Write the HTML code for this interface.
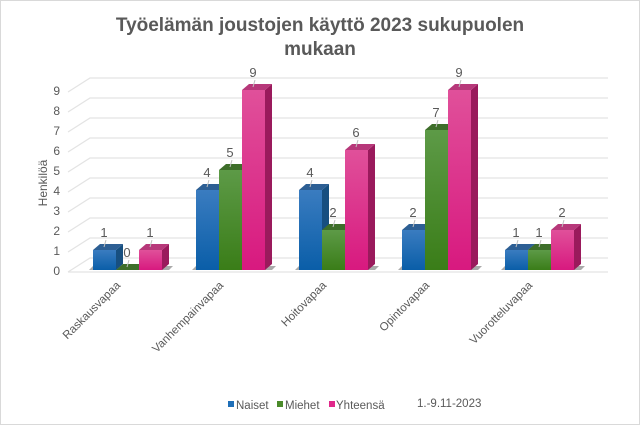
<!DOCTYPE html>
<html><head><meta charset="utf-8"><style>
html,body{margin:0;padding:0;background:#fff;}
svg{display:block;font-family:"Liberation Sans",Arial,sans-serif;}
</style></head><body>
<svg width="640" height="425" viewBox="0 0 640 425" xmlns="http://www.w3.org/2000/svg">
<defs>
<linearGradient id="gb" x1="0" y1="0" x2="0" y2="1"><stop offset="0" stop-color="#3a7cc0"/><stop offset="1" stop-color="#0a5ea8"/></linearGradient>
<linearGradient id="gg" x1="0" y1="0" x2="0" y2="1"><stop offset="0" stop-color="#5d9a47"/><stop offset="1" stop-color="#3a7d18"/></linearGradient>
<linearGradient id="gp" x1="0" y1="0" x2="0" y2="1"><stop offset="0" stop-color="#e0509a"/><stop offset="1" stop-color="#d8197f"/></linearGradient>
</defs>
<rect x="0.5" y="0.5" width="639" height="424" fill="#fff" stroke="#d9d9d9"/>
<text x="320" y="31" text-anchor="middle" font-size="19" font-weight="bold" fill="#595959">Työelämän joustojen käyttö 2023 sukupuolen</text>
<text x="320" y="55" text-anchor="middle" font-size="19" font-weight="bold" fill="#595959">mukaan</text>
<g stroke="#e3e3e3" stroke-width="1.2" fill="none" id="grid"></g>
<g font-size="12" fill="#595959" text-anchor="end" id="yl"></g>
<text transform="translate(47,183) rotate(-90)" text-anchor="middle" font-size="12" fill="#595959">Henkilöä</text>
<g id="bars"></g>
<g font-size="11.5" fill="#595959" id="xl"></g>
<g font-size="11.5" fill="#595959">
<rect x="228" y="401" width="6" height="6" fill="#1f6fb8"/><text x="236" y="409">Naiset</text>
<rect x="277" y="401" width="6" height="6" fill="#4a8a2a"/><text x="285" y="409">Miehet</text>
<rect x="329" y="401" width="6" height="6" fill="#e0288a"/><text x="336" y="409">Yhteensä</text>
<text x="417" y="407">1.-9.11-2023</text>
</g>
<script>
var ns="http://www.w3.org/2000/svg";
function el(p,t,a,txt){var e=document.createElementNS(ns,t);for(var k in a)e.setAttribute(k,a[k]);if(txt!==undefined)e.textContent=txt;document.getElementById(p).appendChild(e);return e;}
for(var v=0;v<=9;v++){var yb=258-20*v,yf=270-20*v;
el("grid","path",{d:"M68 "+(yf+2)+" L90 "+yb+" L608 "+yb});
el("yl","text",{x:60,y:yf+5},String(v));}
el("grid","path",{d:"M68 272 L608 272"});
var data=[[1,0,1],[4,5,9],[4,2,6],[2,7,9],[1,1,2]];
var names=["Raskausvapaa","Vanhempainvapaa","Hoitovapaa","Opintovapaa","Vuorotteluvapaa"];
var fills=["url(#gb)","url(#gg)","url(#gp)"],sides=["#174f80","#2f5f1c","#9a1a5c"],tops=["#2d5f94","#3e6e2a","#b7387a"];
for(var g=0;g<5;g++){var x0=93+103*g;
el("bars","path",{d:"M"+(x0-4)+" 270 L"+(x0+76)+" 270 L"+(x0+80)+" 266 L"+x0+" 266Z",fill:"#555",opacity:"0.5"});
for(var s=0;s<3;s++){var v=data[g][s],x=x0+23*s,w=23,yt=270-20*v;
if(v>0){el("bars","rect",{x:x,y:yt,width:w,height:270-yt,fill:fills[s]});
el("bars","path",{d:"M"+(x+w)+" "+yt+" L"+(x+w+7)+" "+(yt-6)+" L"+(x+w+7)+" "+(264)+" L"+(x+w)+" 270Z",fill:sides[s]});}
el("bars","path",{d:"M"+x+" "+yt+" L"+(x+7)+" "+(yt-6)+" L"+(x+w+7)+" "+(yt-6)+" L"+(x+w)+" "+yt+"Z",fill:tops[s]});
el("bars","line",{x1:x+11,y1:yt-3,x2:x+13,y2:yt-10,stroke:"#bfbfbf"});
el("bars","text",{x:x+11,y:yt-13,"text-anchor":"middle","font-size":"13",fill:"#595959"},String(v));}
el("xl","text",{transform:"translate("+(x0+28)+",286) rotate(-45)","text-anchor":"end"},names[g]);}
</script>
</svg>
</body></html>
